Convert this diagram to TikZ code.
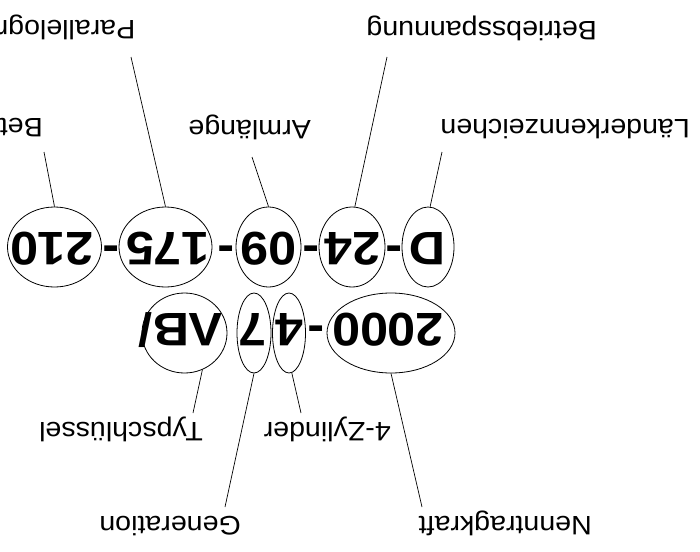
\documentclass[tikz,border=0pt]{standalone}
\usepackage{fontspec}
\setmainfont[FakeStretch=1.07]{Liberation Sans}
\usetikzlibrary{shapes.geometric}
\newcommand{\lblfnt}{\fontsize{26.7}{30}\selectfont}
\newcommand{\platefnt}{\fontsize{47}{50}\selectfont\bfseries}
\tikzset{
  ring/.style={ellipse, draw, line width=0.8pt, inner sep=0pt, minimum height=80pt},
  platetext/.style={rotate=180, anchor=base, font=\platefnt, inner sep=0pt},
  platestart/.style={rotate=180, anchor=base west, font=\platefnt, inner sep=0pt},
  lbl/.style={rotate=180, anchor=base west, font=\lblfnt, inner sep=0pt},
  lead/.style={line width=0.7pt}
}
\begin{document}
\begin{tikzpicture}[x=1pt, y=-1pt]
\useasboundingbox (0,0) rectangle (700,551);

% upper line of the plate
\node[ring, minimum width=94pt] (r210) at (54.5,247) {};
\node[ring, minimum width=93pt] (r175) at (165.5,247) {};
\node[ring, minimum width=65pt] (r09)  at (268.5,247) {};
\node[ring, minimum width=66pt] (r24)  at (352,247) {};
\node[ring, minimum width=52pt] (rD)   at (428,247) {};

\node[platetext] (t210) at (52,232) {210};
\node[platetext] (t175) at (168,232) {175};
\node[platetext] (t09)  at (268.5,232) {09};
\node[platetext] (t24)  at (352.5,232) {24};
\node[platetext] (tD)   at (427.5,232) {D};

\node[platetext] (h1) at (111,236) {-};
\node[platetext] (h2) at (226,236) {-};
\node[platetext] (h3) at (311,236) {-};
\node[platetext] (h4) at (394,236) {-};

% lower line of the plate
\node[ring, minimum width=85pt]  (rVB)   at (184.5,333) {};
\node[ring, minimum width=34pt]  (r7)    at (254,333) {};
\node[ring, minimum width=33pt]  (r4)    at (289,333) {};
\node[ring, minimum width=128pt] (r2000) at (391,333) {};

\node[platestart] (tVB) at (223,313) {ΛB/};
\node[platetext] (t7)    at (252.5,313) {7};
\node[platetext] (t4)    at (290,313) {4};
\node[platetext] (t2000) at (388,313) {2000};
\node[platetext] (h5)    at (316.5,316) {-};

% captions
\node[lbl] (lBsp) at (597,21.5) {Betriebsspannung};
\node[lbl] (lPar) at (135.5,21) {Parallelogramm};
\node[lbl] (lLkz) at (690,119.5) {Länderkennzeichen};
\node[lbl] (lArm) at (311,120) {Armlänge};
\node[lbl] (lBet) at (43,118.5) {Betriebsart};
\node[lbl] (lTyp) at (203,422) {Typschlüssel};
\node[lbl] (lZyl) at (391,422) {4-Zylinder};
\node[lbl] (lGen) at (241,516) {Generation};
\node[lbl] (lNtk) at (592,516) {Nenntragkraft};

% free ends of the leader lines
\coordinate (cBet) at (44,152);
\coordinate (cPar) at (131,57);
\coordinate (cArm) at (252,157);
\coordinate (cBsp) at (387,57);
\coordinate (cLkz) at (442,152);
\coordinate (cTyp) at (193,413);
\coordinate (cGen) at (225,507);
\coordinate (cZyl) at (301,413);
\coordinate (cNtk) at (422,507);

\draw[lead] (cBet) -- (r210.north);
\draw[lead] (cPar) -- (r175.north);
\draw[lead] (cArm) -- (r09.north);
\draw[lead] (cBsp) -- (r24.86);
\draw[lead] (cLkz) -- (rD.87);
\draw[lead] (cTyp) -- (rVB.296);
\draw[lead] (cGen) -- (r7.south);
\draw[lead] (cZyl) -- (r4.274);
\draw[lead] (cNtk) -- (r2000.south);
\end{tikzpicture}
\end{document}
